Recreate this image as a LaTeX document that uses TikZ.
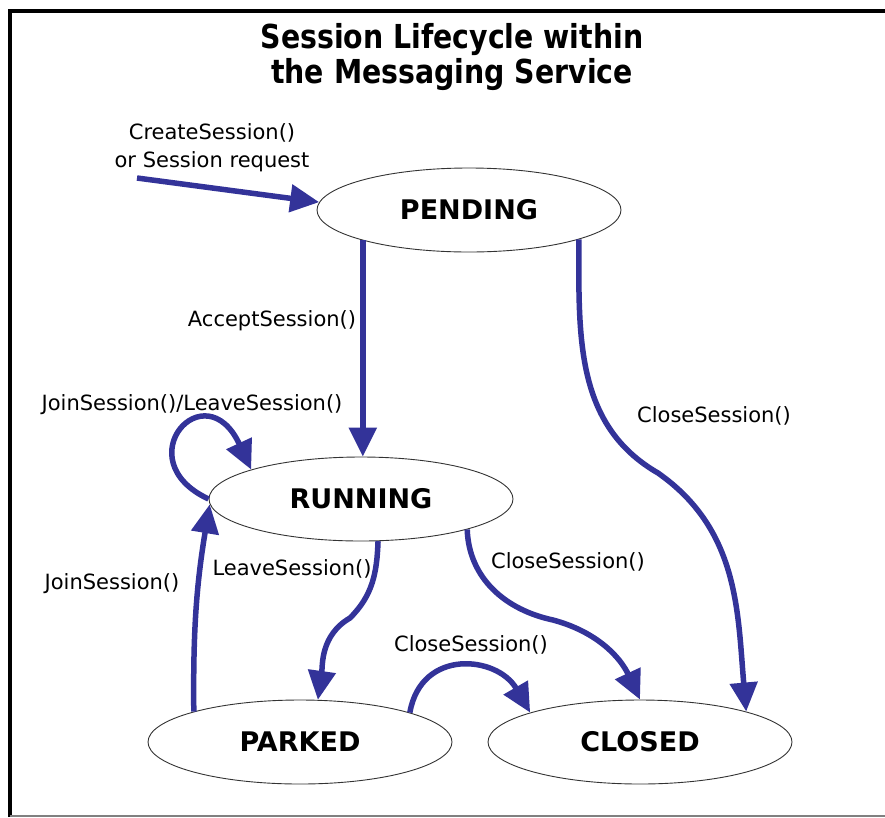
\documentclass[tikz,border=0pt]{standalone}
\usepackage{fontspec}
\setmainfont{DejaVu Sans}
\newfontfamily\headfont{DejaVu Sans}[FakeStretch=0.86]
\usepackage{tikz}
\usetikzlibrary{arrows.meta}
\usetikzlibrary{shapes.geometric}
\definecolor{FlowBlue}{RGB}{51,51,153}
\tikzset{
	statebox/.style={
		draw=black!80, line width=0.9pt,
		ellipse, minimum width=304pt, minimum height=84pt, inner sep=0pt,
		font=\fontsize{27}{30}\selectfont\bfseries,
	},
	trans/.style={draw=FlowBlue, line width=5.5pt, -{Triangle[length=29pt,width=27pt]}},
	lbl/.style={font=\fontsize{21}{28}\selectfont, inner sep=0pt, align=center},
}

\begin{document}
\begin{tikzpicture}[x=1pt,y=1pt]
	\useasboundingbox (0,0) rectangle (885,-817);
	% frame
	\draw[line width=4pt] (10,-817) -- (10,-11) -- (885,-11);
	\draw[gray, line width=1.5pt] (10,-816) -- (885,-816);
	
	\node[font=\headfont\fontsize{33}{35}\selectfont\bfseries, align=center] (title) at (452,-57)
		{Session Lifecycle within\\the Messaging Service};
	
	% states
	\node[statebox] (pending) at (469,-210) {PENDING};
	\node[statebox] (running) at (361,-499) {RUNNING};
	\node[statebox] (parked) at (300,-742) {PARKED};
	\node[statebox] (closed) at (640,-742) {CLOSED};
	
	\coordinate (start) at (137,-178);
	\coordinate (k3) at (658,-473);
	\coordinate (k5) at (350,-618);
	\coordinate (k7) at (553,-620);
	
	% transitions
	\draw[trans] (start) -- (pending.177);
	\draw[trans] (pending.-164) -- (pending.-164 |- running.north);
	\draw[trans] (pending.-15) to[out=-90,in=150] (k3) to[out=-35,in=95] (closed.16);
	\draw[trans] (running.west) .. controls (125,-460) and (205,-370) .. (running.165);
	\draw[trans] (running.-68) to[out=-92,in=45] (k5) to[out=-150,in=82] (parked.67);
	\draw[trans] (parked.164) to[bend left=5] (running.182);
	\draw[trans] (running.-16) to[out=-88,in=168] (k7) to[out=-15,in=115] (closed.north);
	\draw[trans] (parked.15) to[out=80,in=120,looseness=1.4] (closed.165);
	
	\node[lbl] (createlbl) at (212,-148) {CreateSession()\\or Session request};
	\node[lbl] (acceptlbl) at (272,-321) {AcceptSession()};
	\node[lbl] (looplbl) at (192,-405) {JoinSession()/LeaveSession()};
	\node[lbl] (leavelbl) at (292,-569) {LeaveSession()};
	\node[lbl] (joinlbl) at (112,-584) {JoinSession()};
	\node[lbl] (closelblA) at (714,-416) {CloseSession()};
	\node[lbl] (closelblB) at (568,-562) {CloseSession()};
	\node[lbl] (closelblC) at (471,-645) {CloseSession()};
\end{tikzpicture}
\end{document}
